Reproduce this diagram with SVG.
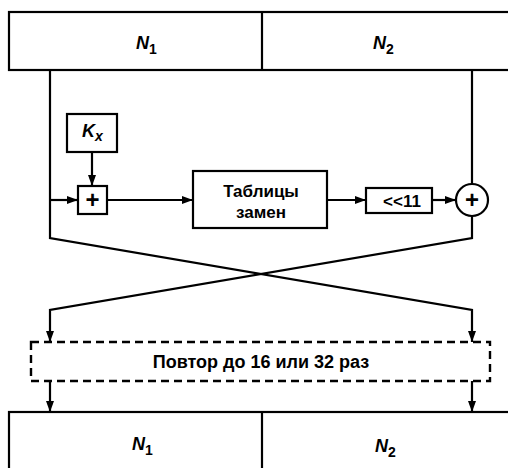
<svg xmlns="http://www.w3.org/2000/svg" width="508" height="468" viewBox="0 0 508 468">
<style>
.box{fill:#fff;stroke:#000;stroke-width:2.2}
.ln{fill:none;stroke:#000;stroke-width:2.2}
.dash{fill:none;stroke:#000;stroke-width:2.4;stroke-dasharray:8 5}
.t{font-family:"Liberation Sans",Arial,sans-serif;fill:#000}
.bi{font-weight:bold;font-style:italic;font-size:18px}
.b{font-weight:bold;font-size:17px}
.rep{font-weight:bold;font-size:18px}
.plus{font-weight:bold;font-size:24px}
</style>
<defs>
<marker id="ar" viewBox="0 0 11 8" refX="11" refY="4" markerWidth="11" markerHeight="8" markerUnits="userSpaceOnUse" orient="auto">
<path d="M0,0 L11,4 L0,8 z" fill="#000"/>
</marker>
</defs>
<g id="top-block">
<rect class="box" x="9" y="12" width="502" height="58"/>
<line class="ln" x1="262" y1="12" x2="262" y2="70"/>
<text class="t bi" x="136" y="49">N<tspan font-size="14" dy="5" font-style="normal">1</tspan></text>
<text class="t bi" x="373" y="49">N<tspan font-size="14" dy="5" font-style="normal">2</tspan></text>
</g>
<g id="kx">
<rect class="box" x="67" y="114" width="50" height="38"/>
<text class="t bi" x="82" y="137">K<tspan font-size="14" dy="4">x</tspan></text>
</g>
<g id="add-mod">
<rect class="box" x="78" y="186" width="29" height="28"/>
<text class="t plus" x="92.5" y="208" text-anchor="middle">+</text>
</g>
<g id="sbox">
<rect class="box" x="193" y="171" width="134" height="57"/>
<text class="t b" x="261" y="197" text-anchor="middle">Таблицы</text>
<text class="t b" x="261" y="218" text-anchor="middle">замен</text>
</g>
<g id="shift">
<rect class="box" x="366" y="188" width="66" height="25"/>
<text class="t b" x="402" y="207" text-anchor="middle">&lt;&lt;11</text>
</g>
<g id="xor">
<circle class="box" cx="472" cy="200" r="16"/>
<text class="t plus" x="472" y="208" text-anchor="middle">+</text>
</g>
<g id="repeat">
<rect class="dash" x="31" y="342" width="459" height="39"/>
<text class="t rep" x="261" y="368" text-anchor="middle">Повтор до 16 или 32 раз</text>
</g>
<g id="bottom-block">
<rect class="box" x="9" y="412" width="502" height="60"/>
<line class="ln" x1="262" y1="412" x2="262" y2="470"/>
<text class="t bi" x="132" y="450">N<tspan font-size="14" dy="5" font-style="normal">1</tspan></text>
<text class="t bi" x="375" y="452">N<tspan font-size="14" dy="5" font-style="normal">2</tspan></text>
</g>
<g id="connectors">
<path class="ln" d="M50,70 V238 L472,310 V342" marker-end="url(#ar)"/>
<path class="ln" d="M472,70 V184"/>
<path class="ln" d="M472,216 V238 L50,310 V342" marker-end="url(#ar)"/>
<path class="ln" d="M50,200 H78" marker-end="url(#ar)"/>
<path class="ln" d="M92,152 V186" marker-end="url(#ar)"/>
<path class="ln" d="M107,200 H193" marker-end="url(#ar)"/>
<path class="ln" d="M327,200 H366" marker-end="url(#ar)"/>
<path class="ln" d="M432,200 H456" marker-end="url(#ar)"/>
<path class="ln" d="M50,381 V412" marker-end="url(#ar)"/>
<path class="ln" d="M472,381 V412" marker-end="url(#ar)"/>
</g>
</svg>
